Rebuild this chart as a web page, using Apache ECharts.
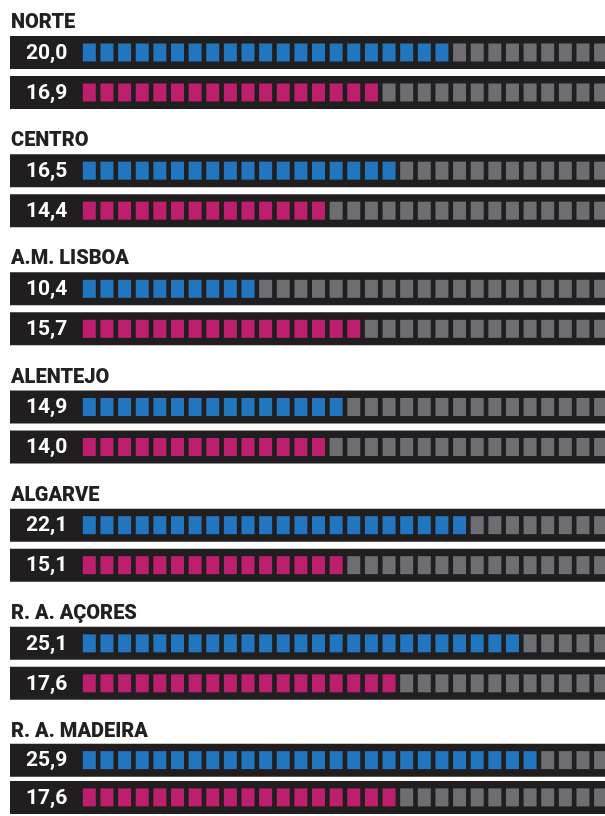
<!DOCTYPE html>
<html>
<head>
<meta charset="utf-8">
<script src="https://cdn.jsdelivr.net/npm/echarts@6/dist/echarts.min.js"></script>
<style>
html,body{margin:0;padding:0;background:#fff;}
#chart{width:605px;height:816px;}
</style>
</head>
<body>
<div id="chart"></div>
<script>
// ---- data ----
const regions = ['NORTE', 'CENTRO', 'A.M. LISBOA', 'ALENTEJO', 'ALGARVE', 'R. A. AÇORES', 'R. A. MADEIRA'];
const blueValues = [20.0, 16.5, 10.4, 14.9, 22.1, 25.1, 25.9];
const pinkValues = [16.9, 14.4, 15.7, 14.0, 15.1, 17.6, 17.6];
// filled squares as counted in the picture
const blueSquares = [21, 18, 10, 15, 22, 25, 26];
const pinkSquares = [17, 14, 16, 14, 15, 18, 18];
const totalSquares = 30;

// ---- styling ----
const COLORS = ['#2176bf', '#bd1f6e'];
const GREY = '#6e6d72';
const DARK = '#201e1f';
const AXIS_MIN = -4, AXIS_MAX = 29.75;
const GROUP_PITCH = 118.17;
const SQ_W = 13, SQ_H = 18, BAR_H = 33;

function renderRow(params, api) {
  const cat = api.value(0);
  const filled = api.value(1);
  const val = api.value(2);
  const color = COLORS[api.value(3)];
  const unit = api.size([1, 0])[0];
  const l = api.coord([AXIS_MIN, cat]);
  const r = api.coord([AXIS_MAX, cat]);
  const cy = l[1];
  const children = [{
    type: 'rect',
    shape: { x: l[0], y: cy - BAR_H / 2, width: r[0] - l[0], height: BAR_H },
    style: { fill: DARK }
  }];
  for (let i = 0; i < totalSquares; i++) {
    const p = api.coord([i, cat]);
    children.push({
      type: 'rect',
      shape: { x: p[0] + (unit - SQ_W) / 2, y: cy - SQ_H / 2, width: SQ_W, height: SQ_H },
      style: { fill: i < filled ? color : GREY }
    });
  }
  children.push({
    type: 'text',
    style: {
      text: val.toFixed(1).replace('.', ','),
      x: l[0] + 16, y: cy + 1,
      verticalAlign: 'middle', align: 'left',
      fill: '#ffffff',
      font: 'bold 21px Roboto'
    }
  });
  return { type: 'group', children };
}

const grids = [], xAxes = [], yAxes = [], series = [], titles = [];
regions.forEach((name, g) => {
  grids.push({ left: 10, right: 0, top: 32.5 + g * GROUP_PITCH, height: 80 });
  xAxes.push({ type: 'value', gridIndex: g, min: AXIS_MIN, max: AXIS_MAX, show: false });
  yAxes.push({ type: 'category', gridIndex: g, data: ['a', 'b'], inverse: true, show: false });
  titles.push({
    text: name, left: 11, top: 13 + g * GROUP_PITCH, padding: 0,
    textStyle: { fontFamily: 'Roboto', fontWeight: 900, fontSize: 20, color: '#222022' }
  });
  series.push({
    type: 'custom',
    xAxisIndex: g, yAxisIndex: g,
    clip: false,
    silent: true,
    renderItem: renderRow,
    encode: { y: 0, x: 1 },
    data: [
      [0, blueSquares[g], blueValues[g], 0],
      [1, pinkSquares[g], pinkValues[g], 1]
    ]
  });
});

const chart = echarts.init(document.getElementById('chart'), null, { renderer: 'canvas' });
chart.setOption({
  backgroundColor: '#ffffff',
  animation: false,
  title: titles,
  grid: grids,
  xAxis: xAxes,
  yAxis: yAxes,
  series: series
});
</script>
</body>
</html>
